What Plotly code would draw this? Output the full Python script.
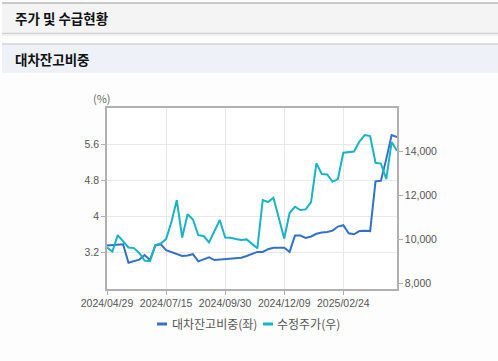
import plotly.graph_objects as go

# ---- data ----
tick_labels = ["2024/04/29", "2024/07/15", "2024/09/30", "2024/12/09", "2025/02/24"]
tick_index = [0, 11, 22, 33, 44]
week_index = list(range(55))

loan_ratio = [3.36, 3.37, 3.39, 3.39, 2.98, 3.01, 3.05, 3.15, 3.04, 3.36,
              3.39, 3.26, 3.22, 3.17, 3.13, 3.14, 3.17, 3.01, 3.05, 3.10,
              3.04, 3.05, 3.07, 3.08, 3.08, 3.09, 3.13, 3.18, 3.22, 3.22,
              3.28, 3.31, 3.31, 3.31, 3.22, 3.58, 3.58, 3.53, 3.56, 3.62,
              3.65, 3.66, 3.69, 3.78, 3.81, 3.63, 3.61, 3.68, 3.69, 3.68,
              4.78, 4.79, 5.27, 5.80, 5.76]

adj_price = [9630, 9440, 10190, 9890, 9630, 9600, 9380, 9035, 9010, 9740,
             9810, 10010, 10785, 11785, 10080, 11135, 10900, 10190, 10150, 9855,
             10375, 10875, 10080, 10070, 10010, 9965, 9995, 9785, 9590, 11785,
             11695, 11890, 10965, 10035, 11195, 11480, 11330, 11360, 11695, 13465,
             12965, 12950, 12615, 12740, 13935, 13965, 13990, 14445, 14740, 14695,
             13480, 13445, 12740, 14420, 14025]

left_ticks = [3.2, 4, 4.8, 5.6]
left_tick_text = ["3.2", "4", "4.8", "5.6"]
right_ticks = [8000, 10000, 12000, 14000]

series_names = ["대차잔고비중(좌)", "수정주가(우)"]
colors = ["#3471c5", "#19b3c3"]

# ---- layout geometry (pixels) ----
W, H = 498, 361
PL, PR, PT, PB = 107, 397, 108, 289
pw, ph = PR - PL, PB - PT


def px(x):
    return (x - PL) / pw


def py(y):
    return (PB - y) / ph


FONT = "Noto Sans CJK KR, Liberation Sans, sans-serif"
NUMFONT = "Liberation Sans, Arial, sans-serif"

fig = go.Figure()
fig.add_trace(go.Scatter(x=week_index, y=loan_ratio, mode="lines", name=series_names[0],
                         line=dict(color=colors[0], width=2), yaxis="y"))
fig.add_trace(go.Scatter(x=week_index, y=adj_price, mode="lines", name=series_names[1],
                         line=dict(color=colors[1], width=2), yaxis="y2"))

shapes = [
    # top header bar
    dict(type="rect", xref="paper", yref="paper", x0=px(2), x1=px(498), y0=py(33), y1=py(3),
         fillcolor="#f4f4f4", line=dict(width=0), layer="below"),
    dict(type="line", xref="paper", yref="paper", x0=px(2), x1=px(498), y0=py(3), y1=py(3),
         line=dict(color="#b8b8b8", width=1.5)),
    dict(type="line", xref="paper", yref="paper", x0=px(2), x1=px(498), y0=py(33.5), y1=py(33.5),
         line=dict(color="#d0d0d0", width=1.5)),
    dict(type="line", xref="paper", yref="paper", x0=px(2), x1=px(498), y0=py(35), y1=py(35),
         line=dict(color="#ececec", width=1.5)),
    # second header bar
    dict(type="rect", xref="paper", yref="paper", x0=px(2), x1=px(498), y0=py(73), y1=py(44),
         fillcolor="#eef2f8", line=dict(width=0), layer="below"),
    dict(type="line", xref="paper", yref="paper", x0=px(2), x1=px(498), y0=py(44), y1=py(44),
         line=dict(color="#d4d4d4", width=1.5)),
    # legend line samples
    dict(type="line", xref="paper", yref="paper", x0=px(157), x1=px(167), y0=py(324), y1=py(324),
         line=dict(color=colors[0], width=3)),
    dict(type="line", xref="paper", yref="paper", x0=px(263), x1=px(273), y0=py(324), y1=py(324),
         line=dict(color=colors[1], width=3)),
]

annotations = [
    dict(text="<b>주가 및 수급현황</b>", xref="paper", yref="paper", x=px(13), y=py(18),
         xanchor="left", yanchor="middle", showarrow=False,
         font=dict(family=FONT, size=13.5, color="#111")),
    dict(text="<b>대차잔고비중</b>", xref="paper", yref="paper", x=px(13), y=py(59),
         xanchor="left", yanchor="middle", showarrow=False,
         font=dict(family=FONT, size=13.5, color="#111")),
    dict(text="(%)", xref="paper", yref="paper", x=px(102), y=py(98),
         xanchor="center", yanchor="middle", showarrow=False,
         font=dict(family=FONT, size=11, color="#666")),
    dict(text=series_names[0], xref="paper", yref="paper", x=px(170), y=py(323),
         xanchor="left", yanchor="middle", showarrow=False,
         font=dict(family=FONT, size=12, color="#555")),
    dict(text=series_names[1], xref="paper", yref="paper", x=px(275), y=py(323),
         xanchor="left", yanchor="middle", showarrow=False,
         font=dict(family=FONT, size=12, color="#555")),
]

tickfont = dict(family=NUMFONT, size=10.5, color="#555")

fig.update_layout(
    width=W, height=H,
    margin=dict(l=PL, r=W - PR, t=PT, b=H - PB, pad=0),
    paper_bgcolor="#fdfdfd", plot_bgcolor="#ffffff",
    showlegend=False,
    font=dict(family=FONT, size=11, color="#555"),
    shapes=shapes, annotations=annotations,
    xaxis=dict(range=[0, 54], tickvals=tick_index, ticktext=tick_labels, tickangle=0,
               showgrid=True, gridcolor="#e8e8e8", gridwidth=1,
               showline=True, linecolor="#b0b0b0", linewidth=1.5, mirror=True,
               ticks="outside", ticklen=4, tickcolor="#b0b0b0",
               tickfont=tickfont, zeroline=False),
    yaxis=dict(range=[2.4, 6.4], tickvals=left_ticks, ticktext=left_tick_text,
               showgrid=True, gridcolor="#e8e8e8", gridwidth=1,
               showline=True, linecolor="#b0b0b0", linewidth=1.5,
               ticks="outside", ticklen=4, tickcolor="#b0b0b0",
               tickfont=tickfont, zeroline=False),
    yaxis2=dict(range=[7740, 15970], tickvals=right_ticks, tickformat=",",
                overlaying="y", side="right", showgrid=False,
                showline=True, linecolor="#b0b0b0", linewidth=1.5,
                ticks="outside", ticklen=4, tickcolor="#b0b0b0",
                tickfont=tickfont, zeroline=False),
)

fig.write_html("out.html",
               config={"displayModeBar": False},
               post_script="document.body.style.margin='0';document.body.style.padding='0';")
